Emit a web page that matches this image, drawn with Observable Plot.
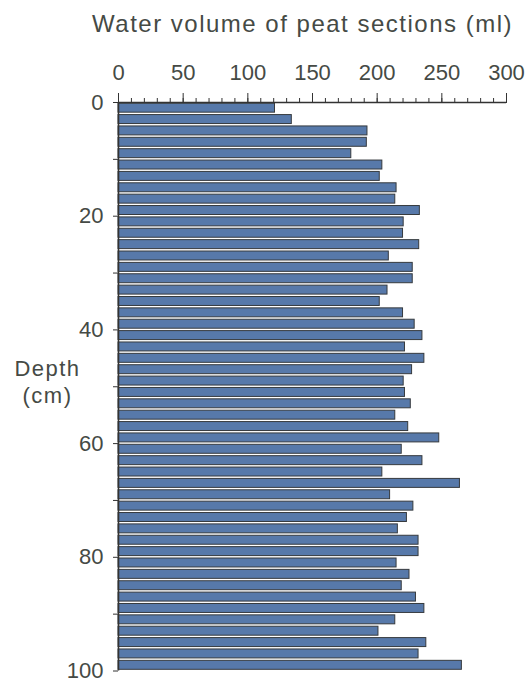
<!DOCTYPE html>
<html><head><meta charset="utf-8">
<script src="https://cdn.jsdelivr.net/npm/d3@7"></script>
<script src="https://cdn.jsdelivr.net/npm/@observablehq/plot@0.6"></script>
<style>body{margin:0;background:#fff}</style>
</head><body><div id="chart"></div>
<script>
const depthTop = [0,2,4,6,8,10,12,14,16,18,20,22,24,26,28,30,32,34,36,38,40,42,44,46,48,50,52,54,56,58,60,62,64,66,68,70,72,74,76,78,80,82,84,86,88,90,92,94,96,98];
const depthBottom = [2,4,6,8,10,12,14,16,18,20,22,24,26,28,30,32,34,36,38,40,42,44,46,48,50,52,54,56,58,60,62,64,66,68,70,72,74,76,78,80,82,84,86,88,90,92,94,96,98,100];
const waterVolume = [121,134,192.5,192,180,204,202,215,214,233,220.5,220,232.5,209,227.5,227.5,208,202,220,229,235,221.5,236.5,227,220.5,221.5,226,214,224,248,219,235,204,264,210,228,223,216,232,232,215,225,219,230,236.5,214,201,238,232,265.5];
const xMajorTicks = [0,50,100,150,200,250,300];
const xMinorTicks = [0,10,20,30,40,50,60,70,80,90,100,110,120,130,140,150,160,170,180,190,200,210,220,230,240,250,260,270,280,290,300];
const yTicks = [0,10,20,30,40,50,60,70,80,90,100];
const yTickLabels = ["0","","20","","40","","60","","80","","100"];
const titleText = "Water volume of peat sections (ml)";
const yLabelText = "Depth\n(cm)";

const data = waterVolume.map((v, i) => ({top: depthTop[i], bottom: depthBottom[i], volume: v}));
const yLabelMap = new Map(yTicks.map((t, i) => [t, yTickLabels[i]]));
const ink = "#454a45";

const chart = Plot.plot({
  width: 531, height: 682,
  marginTop: 102, marginBottom: 11.5, marginLeft: 118, marginRight: 25,
  style: {fontFamily: "'Liberation Sans', Arial, sans-serif", fontSize: "22px", color: ink, background: "#fff", overflow: "visible"},
  x: {domain: [0, 300]},
  y: {domain: [0, 100], reverse: true},
  marks: [
    Plot.rectX(data, {y1: "top", y2: "bottom", x: "volume", fill: "#5779aa", stroke: "#363a3e", strokeWidth: 1, insetTop: 1.2, insetBottom: 1.2}),
    Plot.ruleY([0], {x1: 0, x2: 300, stroke: "#333", strokeWidth: 1.5}),
    Plot.ruleX([0], {y1: 0, y2: 100, stroke: "#333", strokeWidth: 1.5}),
    Plot.axisX({anchor: "top", ticks: xMinorTicks, tickSize: 5, tickFormat: () => "", label: null, stroke: "#333"}),
    Plot.axisX({anchor: "top", ticks: xMajorTicks, tickSize: 10, tickPadding: 13, label: null, stroke: "#333", fill: ink}),
    Plot.axisY({anchor: "left", ticks: yTicks, tickSize: 5, tickPadding: 10, tickFormat: d => yLabelMap.get(d), label: null, stroke: "#333", fill: ink}),
    Plot.text([titleText], {frameAnchor: "top", dx: -10, dy: -71, lineAnchor: "bottom", fontSize: 24, fill: ink}),
    Plot.text([yLabelText], {frameAnchor: "left", dx: -71, dy: -5.75, textAnchor: "middle", lineAnchor: "middle", lineHeight: 1.2, fontSize: 22, fill: ink})
  ]
});
d3.select(chart).selectAll("text").each(function() {
  const t = this.textContent;
  if (t === titleText) this.setAttribute("style", "letter-spacing:1.5px");
  else if (t.startsWith("Depth")) this.setAttribute("style", "letter-spacing:1.5px");
});
document.getElementById("chart").appendChild(chart);
</script>
</body></html>
